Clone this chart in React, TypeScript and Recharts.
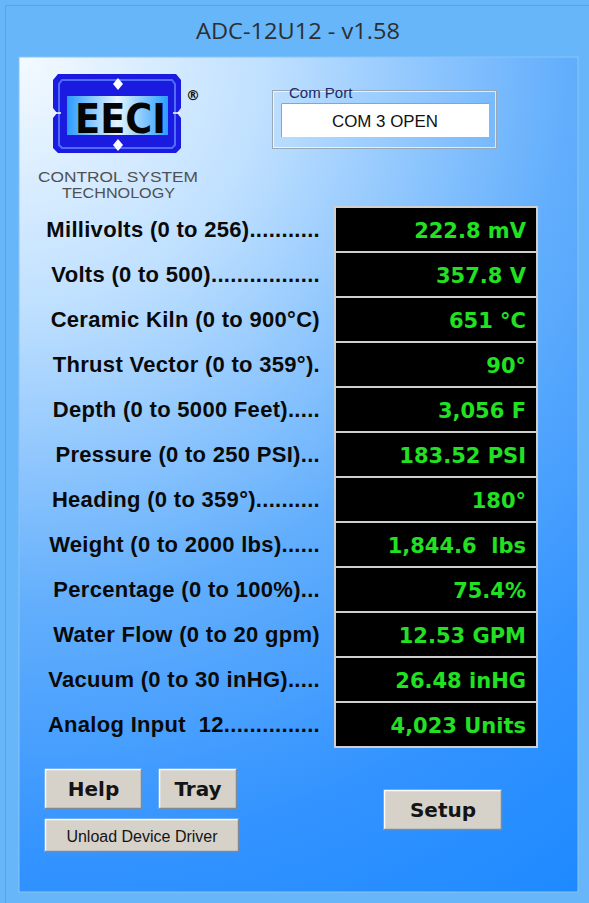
import { BarChart, Bar, XAxis, YAxis, LabelList } from "recharts";

const channelLabels = [
  "Millivolts (0 to 256)...........",
  "Volts (0 to 500).................",
  "Ceramic Kiln (0 to 900°C)",
  "Thrust Vector (0 to 359°).",
  "Depth (0 to 5000 Feet).....",
  "Pressure (0 to 250 PSI)...",
  "Heading (0 to 359°)..........",
  "Weight (0 to 2000 lbs)......",
  "Percentage (0 to 100%)...",
  "Water Flow (0 to 20 gpm)",
  "Vacuum (0 to 30 inHG).....",
  "Analog Input\u00a0\u00a012...............",
];

const readings = [
  "222.8 mV",
  "357.8 V",
  "651 °C",
  "90°",
  "3,056 F",
  "183.52 PSI",
  "180°",
  "1,844.6\u00a0\u00a0lbs",
  "75.4%",
  "12.53 GPM",
  "26.48 inHG",
  "4,023 Units",
];

const values = [222.8, 357.8, 651, 90, 3056, 183.52, 180, 1844.6, 75.4, 12.53, 26.48, 4023];
const fullScale = [256, 500, 900, 359, 5000, 250, 359, 2000, 100, 20, 30, 4095];

const rows = channelLabels.map((label, i) => ({
  label,
  reading: readings[i],
  level: values[i] / fullScale[i],
}));

const CHART_W = 560;
const PLOT_RIGHT = 537;

const LabelTick = ({ y, payload }: any) => (
  <text
    x={320}
    y={y}
    dy={7}
    textAnchor="end"
    fill="#0a0a0a"
    style={{ fontFamily: "Liberation Sans", fontWeight: 700, fontSize: 22, letterSpacing: 0.3 }}
  >
    {payload.value}
  </text>
);

const ReadingLabel = (props: any) => {
  const { y, height, index } = props;
  return (
    <text
      x={PLOT_RIGHT - 11}
      y={y + height / 2}
      dy={8}
      textAnchor="end"
      fill="#22e022"
      style={{ fontFamily: "DejaVu Sans", fontWeight: 700, fontSize: 21 }}
    >
      {readings[index]}
    </text>
  );
};

const Button = ({ x, y, w, h, text, bold }: any) => (
  <g>
    <rect x={x} y={y} width={w} height={h} fill="#d6d2ca" />
    <path d={`M${x + 0.5} ${y + h} V${y + 0.5} H${x + w}`} stroke="#ffffff" strokeWidth={1.5} fill="none" />
    <path d={`M${x} ${y + h - 0.5} H${x + w - 0.5} V${y}`} stroke="#7f8a96" strokeWidth={1.5} fill="none" />
    <text
      x={x + w / 2}
      y={y + h / 2}
      dy={bold ? 7 : 6}
      textAnchor="middle"
      fill="#141414"
      style={{
        fontFamily: bold ? "DejaVu Sans" : "Liberation Sans",
        fontWeight: bold ? 700 : 400,
        fontSize: bold ? 20 : 16,
      }}
    >
      {text}
    </text>
  </g>
);

const Window = () => (
  <svg width={589} height={903} style={{ position: "absolute", left: 0, top: 0 }}>
    <defs>
      <radialGradient id="client" gradientUnits="userSpaceOnUse" cx={19} cy={57} r={1000}>
        <stop offset="0" stopColor="#f4faff" />
        <stop offset="0.25" stopColor="#bfe0ff" />
        <stop offset="0.55" stopColor="#62aefc" />
        <stop offset="0.8" stopColor="#3393ff" />
        <stop offset="1" stopColor="#1e8aff" />
      </radialGradient>
      <linearGradient id="badge" x1="0" y1="0" x2="1" y2="0">
        <stop offset="0" stopColor="#2a9cff" />
        <stop offset="0.5" stopColor="#e6f6ff" />
        <stop offset="1" stopColor="#2a9cff" />
      </linearGradient>
    </defs>
    <rect x={0} y={0} width={589} height={903} fill="#67b6fa" />
    <rect x={5.5} y={5.5} width={590} height={910} fill="none" stroke="#5aa3e4" />
    <text
      x={298}
      y={39}
      textAnchor="middle"
      fill="#2e2e2e"
      textLength={204}
      lengthAdjust="spacingAndGlyphs"
      style={{ fontFamily: "Open Sans", fontSize: 21 }}
    >
      ADC-12U12 - v1.58
    </text>
    <rect x={19} y={57} width={559} height={835} fill="url(#client)" stroke="#8cc4f5" />

    {/* logo */}
    <path
      d="M58 74 H176 L181 80 V108 L177 113 L181 118 V148 L176 153 H58 L53 148 V118 L57 113 L53 108 V80 Z"
      fill="#1a1ae0"
    />
    <path d="M62 80 H172 L175 84 V145 L172 148 H62 L59 145 V84 Z" fill="none" stroke="#4f6cff" strokeWidth={2} />
    <rect x={67} y={96} width={101} height={39} fill="url(#badge)" />
    <path d="M118 78 L123 84 L118 90 L113 84 Z" fill="#ffffff" />
    <path d="M118 139 L123 145 L118 151 L113 145 Z" fill="#ffffff" />
    <path d="M55 113 H61 M173 113 H180" stroke="#ffffff" strokeWidth={1.5} />
    <text
      x={75}
      y={133}
      textLength={91}
      lengthAdjust="spacingAndGlyphs"
      fill="#050505"
      style={{ fontFamily: "DejaVu Sans", fontWeight: 700, fontSize: 40 }}
    >
      EECI
    </text>
    <text x={186} y={100} fill="#111" style={{ fontFamily: "DejaVu Sans", fontWeight: 700, fontSize: 14 }}>
      ®
    </text>
    <text
      x={38}
      y={182}
      textLength={160}
      lengthAdjust="spacingAndGlyphs"
      fill="#505050"
      style={{ fontFamily: "Liberation Sans", fontSize: 15 }}
    >
      CONTROL SYSTEM
    </text>
    <text
      x={62}
      y={198}
      textLength={113}
      lengthAdjust="spacingAndGlyphs"
      fill="#505050"
      style={{ fontFamily: "Liberation Sans", fontSize: 15 }}
    >
      TECHNOLOGY
    </text>

    {/* com port group */}
    <rect x={272.5} y={90.5} width={224} height={58} fill="none" stroke="#9aa8b6" />
    <rect x={273.5} y={91.5} width={222} height={56} fill="none" stroke="#ffffff" strokeOpacity={0.7} />
    <text x={289} y={98} fill="#1b2a66" style={{ fontFamily: "Liberation Sans", fontSize: 15 }}>
      Com Port
    </text>
    <rect x={281} y={103} width={208} height={34} fill="#ffffff" />
    <path d="M281.5 137 V103.5 H489" stroke="#a0a0a0" fill="none" />
    <text
      x={385}
      y={127}
      textAnchor="middle"
      textLength={106}
      lengthAdjust="spacingAndGlyphs"
      fill="#111"
      style={{ fontFamily: "Liberation Sans", fontSize: 16 }}
    >
      COM 3 OPEN
    </text>

    <Button x={45} y={769} w={97} h={40} text="Help" bold />
    <Button x={159} y={769} w={78} h={40} text="Tray" bold />
    <Button x={45} y={819} w={194} h={33} text="Unload Device Driver" />
    <Button x={384} y={790} w={118} h={40} text="Setup" bold />
  </svg>
);

export default function App() {
  return (
    <div style={{ position: "relative", width: 589, height: 903, overflow: "hidden" }}>
      <style>{"body{margin:0}"}</style>
      <Window />
      <div style={{ position: "absolute", left: 0, top: 205 }}>
        <BarChart
          width={CHART_W}
          height={544}
          data={rows}
          layout="vertical"
          margin={{ top: 2, right: CHART_W - PLOT_RIGHT, bottom: 2, left: 0 }}
          barCategoryGap={0}
          barGap={0}
        >
          <XAxis type="number" domain={[0, 1]} hide />
          <YAxis
            type="category"
            dataKey="label"
            width={335}
            axisLine={false}
            tickLine={false}
            interval={0}
            tick={<LabelTick />}
          />
          <Bar
            dataKey="level"
            fill="none"
            isAnimationActive={false}
            background={{ fill: "#000000", stroke: "#cfcfcf", strokeWidth: 2 }}
          >
            <LabelList dataKey="reading" content={<ReadingLabel />} />
          </Bar>
        </BarChart>
      </div>
    </div>
  );
}
